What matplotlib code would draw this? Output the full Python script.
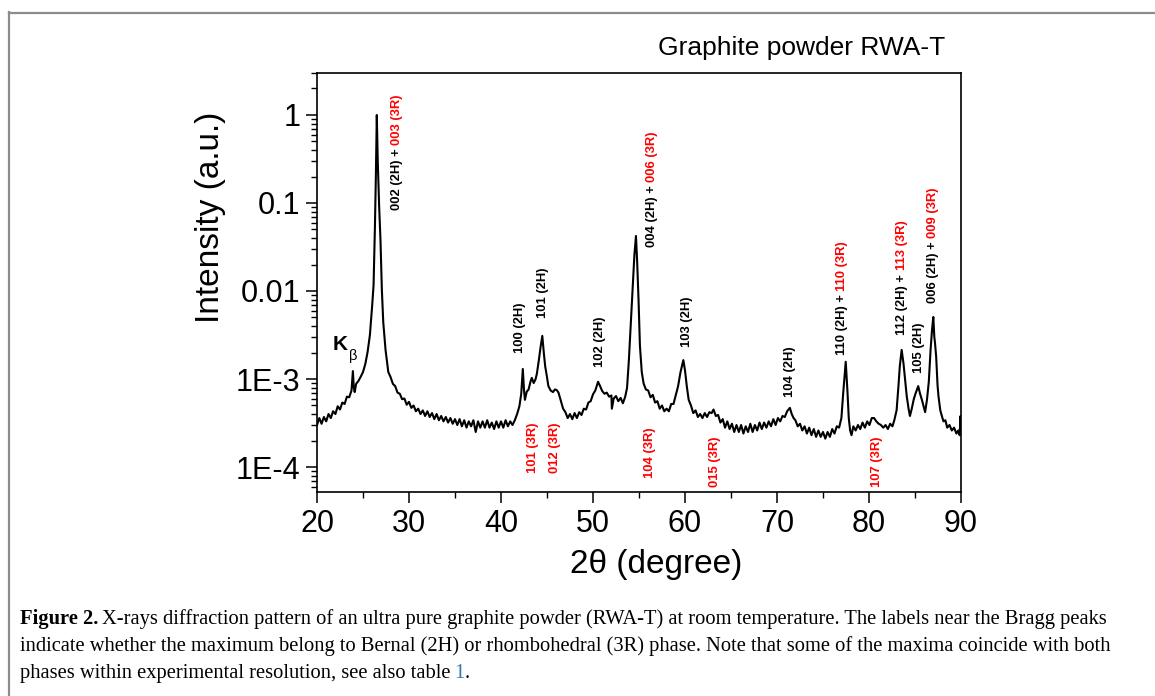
import matplotlib
matplotlib.use("Agg")
import matplotlib.pyplot as plt
from matplotlib.lines import Line2D
from matplotlib.ticker import FixedLocator, FixedFormatter, LogLocator, MultipleLocator, NullFormatter

plt.rcParams["font.family"] = ["Liberation Sans", "DejaVu Sans"]

# 2theta (degree) and intensity (a.u.)
two_theta = [
    20.00, 20.25, 20.50, 20.75, 21.00, 21.25, 21.50, 21.75,
    22.00, 22.25, 22.50, 22.75, 23.00, 23.25, 23.50, 23.75,
    23.90, 24.00, 24.10, 24.25, 24.50, 24.75, 25.00, 25.25,
    25.50, 25.75, 26.00, 26.15, 26.30, 26.40, 26.50, 26.60,
    26.75, 26.90, 27.05, 27.20, 27.45, 27.75, 28.00, 28.25,
    28.50, 28.75, 29.00, 29.25, 29.50, 29.75, 30.00, 30.25,
    30.50, 30.75, 31.00, 31.25, 31.50, 31.75, 32.00, 32.25,
    32.50, 32.75, 33.00, 33.25, 33.50, 33.75, 34.00, 34.25,
    34.50, 34.75, 35.00, 35.25, 35.50, 35.75, 36.00, 36.25,
    36.50, 36.75, 37.00, 37.25, 37.50, 37.75, 38.00, 38.25,
    38.50, 38.75, 39.00, 39.25, 39.50, 39.75, 40.00, 40.25,
    40.50, 40.75, 41.00, 41.25, 41.50, 41.75, 42.00, 42.20,
    42.37, 42.50, 42.60, 42.80, 43.00, 43.20, 43.35, 43.55,
    43.75, 43.90, 44.10, 44.30, 44.49, 44.65, 44.80, 45.00,
    45.15, 45.40, 45.65, 45.85, 46.05, 46.25, 46.45, 46.75,
    47.00, 47.25, 47.50, 47.75, 48.00, 48.25, 48.50, 48.75,
    49.00, 49.25, 49.50, 49.75, 50.00, 50.25, 50.55, 50.75,
    51.00, 51.25, 51.50, 51.75, 52.00, 52.05, 52.25, 52.50,
    52.75, 53.00, 53.25, 53.50, 53.70, 53.90, 54.10, 54.30,
    54.50, 54.67, 54.80, 54.95, 55.10, 55.30, 55.50, 55.75,
    56.00, 56.25, 56.50, 56.75, 57.00, 57.25, 57.50, 57.75,
    58.00, 58.25, 58.50, 58.75, 59.00, 59.25, 59.50, 59.82,
    60.00, 60.20, 60.40, 60.65, 60.90, 61.15, 61.40, 61.65,
    61.90, 62.15, 62.40, 62.65, 62.90, 63.10, 63.35, 63.60,
    63.85, 64.10, 64.35, 64.60, 64.85, 65.10, 65.35, 65.60,
    65.85, 66.10, 66.35, 66.60, 66.85, 67.10, 67.35, 67.60,
    67.85, 68.10, 68.35, 68.60, 68.85, 69.10, 69.35, 69.60,
    69.85, 70.10, 70.35, 70.60, 70.85, 71.10, 71.40, 71.60,
    71.80, 72.00, 72.25, 72.50, 72.75, 73.00, 73.25, 73.50,
    73.75, 74.00, 74.25, 74.50, 74.75, 75.00, 75.25, 75.50,
    75.75, 76.00, 76.25, 76.50, 76.75, 77.00, 77.20, 77.47,
    77.65, 77.80, 77.95, 78.10, 78.30, 78.55, 78.80, 79.05,
    79.30, 79.55, 79.80, 80.05, 80.30, 80.55, 80.80, 81.05,
    81.30, 81.55, 81.80, 82.05, 82.30, 82.55, 82.75, 83.00,
    83.20, 83.35, 83.55, 83.75, 83.90, 84.10, 84.30, 84.45,
    84.65, 84.85, 85.05, 85.35, 85.55, 85.75, 86.00, 86.10,
    86.30, 86.50, 86.70, 86.85, 86.99, 87.10, 87.17, 87.30,
    87.45, 87.55, 87.75, 87.95, 88.10, 88.30, 88.50, 88.75,
    89.00, 89.25, 89.50, 89.70, 89.85, 89.95, 90.00,
]
intensity = [
    3.0e-4, 3.6e-4, 3.1e-4, 3.7e-4, 3.3e-4, 4.0e-4, 3.6e-4, 4.3e-4,
    4.0e-4, 4.9e-4, 4.5e-4, 5.4e-4, 5.2e-4, 6.3e-4, 6.2e-4, 7.4e-4,
    1.23e-3, 8.0e-4, 7.1e-4, 8.8e-4, 9.5e-4, 1.06e-3, 1.2e-3, 1.48e-3,
    2.03e-3, 3.16e-3, 6.9e-3, 1.17e-2, 5.6e-2, 0.208, 1.0, 0.308,
    0.095, 0.038, 1.03e-2, 4.45e-3, 2.14e-3, 1.2e-3, 1.05e-3, 8.8e-4,
    8.3e-4, 7.0e-4, 6.8e-4, 5.9e-4, 6.0e-4, 5.1e-4, 5.5e-4, 4.7e-4,
    5.0e-4, 4.3e-4, 4.6e-4, 4.0e-4, 4.4e-4, 3.8e-4, 4.3e-4, 3.7e-4,
    4.1e-4, 3.5e-4, 4.0e-4, 3.4e-4, 3.8e-4, 3.3e-4, 3.7e-4, 3.2e-4,
    3.6e-4, 3.1e-4, 3.5e-4, 3.0e-4, 3.5e-4, 2.9e-4, 3.4e-4, 2.8e-4,
    3.3e-4, 2.9e-4, 3.4e-4, 2.5e-4, 3.3e-4, 2.8e-4, 3.3e-4, 2.8e-4,
    3.4e-4, 2.8e-4, 3.2e-4, 2.7e-4, 3.3e-4, 2.8e-4, 3.3e-4, 2.8e-4,
    3.4e-4, 2.9e-4, 3.3e-4, 3.0e-4, 3.4e-4, 4.0e-4, 4.9e-4, 6.8e-4,
    1.3e-3, 7.5e-4, 5.8e-4, 7.2e-4, 7.6e-4, 9.3e-4, 1.03e-3, 9.0e-4,
    9.9e-4, 1.15e-3, 1.6e-3, 2.3e-3, 3.09e-3, 2.0e-3, 1.4e-3, 1.05e-3,
    8.3e-4, 7.4e-4, 7.1e-4, 7.6e-4, 7.5e-4, 7.0e-4, 5.9e-4, 4.6e-4,
    4.2e-4, 3.6e-4, 4.0e-4, 3.5e-4, 4.1e-4, 3.6e-4, 4.2e-4, 3.9e-4,
    4.6e-4, 4.5e-4, 5.4e-4, 5.6e-4, 6.7e-4, 7.4e-4, 9.3e-4, 8.4e-4,
    7.3e-4, 6.8e-4, 7.0e-4, 6.3e-4, 6.5e-4, 4.6e-4, 6.0e-4, 6.4e-4,
    5.6e-4, 6.1e-4, 5.3e-4, 6.3e-4, 7.9e-4, 1.64e-3, 4.1e-3, 1.03e-2,
    2.57e-2, 4.22e-2, 2.14e-2, 7.9e-3, 2.4e-3, 1.2e-3, 8.9e-4, 7.6e-4,
    7.4e-4, 6.2e-4, 6.6e-4, 5.4e-4, 5.6e-4, 4.6e-4, 5.0e-4, 4.3e-4,
    4.6e-4, 4.3e-4, 5.2e-4, 5.2e-4, 6.6e-4, 8.3e-4, 1.18e-3, 1.64e-3,
    1.25e-3, 8.2e-4, 5.8e-4, 5.0e-4, 4.1e-4, 4.4e-4, 3.7e-4, 4.0e-4,
    3.6e-4, 4.1e-4, 3.7e-4, 4.2e-4, 4.1e-4, 4.5e-4, 3.8e-4, 3.9e-4,
    3.2e-4, 3.5e-4, 2.8e-4, 3.3e-4, 2.7e-4, 3.1e-4, 2.5e-4, 3.0e-4,
    2.5e-4, 3.0e-4, 2.4e-4, 2.9e-4, 2.5e-4, 3.1e-4, 2.5e-4, 3.0e-4,
    2.6e-4, 3.2e-4, 2.7e-4, 3.2e-4, 2.8e-4, 3.3e-4, 2.9e-4, 3.5e-4,
    3.0e-4, 3.6e-4, 3.3e-4, 3.8e-4, 3.7e-4, 4.3e-4, 4.7e-4, 4.0e-4,
    3.6e-4, 3.4e-4, 2.9e-4, 3.1e-4, 2.6e-4, 2.9e-4, 2.4e-4, 2.8e-4,
    2.3e-4, 2.7e-4, 2.2e-4, 2.6e-4, 2.2e-4, 2.5e-4, 2.1e-4, 2.5e-4,
    2.2e-4, 2.7e-4, 2.4e-4, 2.9e-4, 2.8e-4, 3.6e-4, 7.0e-4, 1.57e-3,
    7.5e-4, 3.6e-4, 2.6e-4, 2.3e-4, 2.9e-4, 2.6e-4, 3.0e-4, 2.7e-4,
    3.2e-4, 2.8e-4, 3.3e-4, 3.0e-4, 3.6e-4, 3.6e-4, 3.3e-4, 3.1e-4,
    3.0e-4, 2.8e-4, 3.0e-4, 2.7e-4, 3.1e-4, 2.9e-4, 3.4e-4, 4.4e-4,
    8.3e-4, 1.4e-3, 2.14e-3, 1.5e-3, 1.03e-3, 6.4e-4, 4.6e-4, 3.8e-4,
    4.6e-4, 5.8e-4, 6.8e-4, 8.3e-4, 6.8e-4, 5.8e-4, 4.6e-4, 4.2e-4,
    5.8e-4, 9.3e-4, 2.2e-3, 3.6e-3, 5.07e-3, 3.0e-3, 2.6e-3, 1.8e-3,
    8.5e-4, 6.4e-4, 4.4e-4, 3.7e-4, 3.3e-4, 3.4e-4, 2.8e-4, 3.0e-4,
    2.6e-4, 2.8e-4, 2.4e-4, 2.6e-4, 2.3e-4, 3.8e-4, 2.6e-4,
]
assert len(two_theta) == len(intensity)

# peak labels above the curve: (2theta, bottom of text, black part, red part)
peak_pos = [28.7, 56.4, 42.07, 44.57, 50.76, 60.2, 71.4, 77.07, 83.6, 85.43, 86.96]
peak_base = [0.083, 0.0316, 1.97e-3, 4.9e-3, 1.37e-3, 2.3e-3, 6.2e-4, 1.87e-3, 3.16e-3, 1.17e-3, 7.3e-3]
peak_2h = ["002 (2H) +", "004 (2H) +", "100 (2H)", "101 (2H)", "102 (2H)", "103 (2H)",
           "104 (2H)", "110 (2H) +", "112 (2H) +", "105 (2H)", "006 (2H) +"]
peak_3r = ["003 (3R)", "006 (3R)", "", "", "", "", "", "110 (3R)", "113 (3R)", "", "009 (3R)"]

# rhombohedral-only labels below the curve
rhombo_pos = [43.5, 45.87, 56.2, 63.26, 80.87]
rhombo_base = [8.5e-5, 8.5e-5, 7.5e-5, 5.9e-5, 5.9e-5]
rhombo_text = ["101 (3R)", "012 (3R)", "104 (3R)", "015 (3R)", "107 (3R)"]

y_ticks = [1, 0.1, 0.01, 1e-3, 1e-4]
y_ticklabels = ["1", "0.1", "0.01", "1E-3", "1E-4"]

W, H = 1155, 696
fig = plt.figure(figsize=(W / 100, H / 100), dpi=100)
ax = fig.add_axes([317 / W, 1 - 492 / H, 644 / W, 419 / H])

ax.plot(two_theta, intensity, color="black", lw=1.5)
ax.set_yscale("log")
ax.set_xlim(20, 90)
ax.set_ylim(5.2e-5, 3.0)

ax.yaxis.set_major_locator(FixedLocator(y_ticks))
ax.yaxis.set_major_formatter(FixedFormatter(y_ticklabels))
ax.yaxis.set_minor_locator(LogLocator(base=10, subs=range(2, 10), numticks=20))
ax.yaxis.set_minor_formatter(NullFormatter())
ax.xaxis.set_major_locator(MultipleLocator(10))
ax.xaxis.set_minor_locator(MultipleLocator(5))

ax.tick_params(which="major", direction="out", length=8, width=1.1, labelsize=22, pad=4)
ax.tick_params(which="minor", direction="out", length=4.5, width=1.0)
ax.tick_params(top=False, right=False)
for sp in ax.spines.values():
    sp.set_linewidth(1.2)

fig.text(656 / W, 1 - 565 / H, "2θ (degree)", fontsize=24, ha="center", va="center")
fig.text(210 / W, 1 - 217 / H, "Intensity (a.u.)", fontsize=24, ha="center", va="center",
         rotation=90)
fig.text(945 / W, 1 - 48 / H, "Graphite powder RWA-T", fontsize=19, ha="right", va="center")

# K beta label
fig.text(333 / W, 1 - 350 / H, "K", fontsize=15, fontweight="bold", ha="left", va="baseline")
fig.text(349 / W, 1 - 360 / H, "β", fontsize=10.5, ha="left", va="baseline")

fig.canvas.draw()
renderer = fig.canvas.get_renderer()
fs = 9.4
for x, yb, black, red in zip(peak_pos, peak_base, peak_2h, peak_3r):
    t = ax.text(x, yb, black, rotation=90, ha="center", va="bottom", fontsize=fs,
                fontweight="bold", color="black")
    if red:
        h = t.get_window_extent(renderer).height * 72 / fig.dpi
        ax.annotate(red, xy=(x, yb), xytext=(0, h + 0.28 * fs), textcoords="offset points",
                    rotation=90, ha="center", va="bottom", fontsize=fs, fontweight="bold",
                    color="#ff0000")

for x, yb, label in zip(rhombo_pos, rhombo_base, rhombo_text):
    ax.text(x, yb, label, rotation=90, ha="center", va="bottom", fontsize=fs,
            fontweight="bold", color="#ff0000")

# grey frame of the journal figure (left and top edges)
fig.add_artist(Line2D([8.5 / W, 8.5 / W], [0, 1 - 12 / H], color="#8c8c8c", lw=1.6,
                      transform=fig.transFigure))
fig.add_artist(Line2D([8.5 / W, 1], [1 - 12.5 / H, 1 - 12.5 / H], color="#8c8c8c", lw=1.6,
                      transform=fig.transFigure))

# caption
cap_font = dict(family=["Liberation Serif", "DejaVu Serif"], fontsize=14.8, va="baseline")
x0 = 20 / W
t = fig.text(x0, 1 - 624 / H, "Figure 2.", fontweight="bold", **cap_font)
w = t.get_window_extent(renderer).width
fig.text(x0 + (w + 4) / W, 1 - 624 / H,
         "X-rays diffraction pattern of an ultra pure graphite powder (RWA-T) at room "
         "temperature. The labels near the Bragg peaks", **cap_font)
fig.text(x0, 1 - 651 / H,
         "indicate whether the maximum belong to Bernal (2H) or rhombohedral (3R) phase. "
         "Note that some of the maxima coincide with both", **cap_font)
t = fig.text(x0, 1 - 678 / H, "phases within experimental resolution, see also table",
             **cap_font)
w = t.get_window_extent(renderer).width
t = fig.text(x0 + (w + 4) / W, 1 - 678 / H, "1", color="#2a7ab8", **cap_font)
w2 = t.get_window_extent(renderer).width
fig.text(x0 + (w + 4 + w2) / W, 1 - 678 / H, ".", **cap_font)

fig.savefig("out.png", dpi=100)
